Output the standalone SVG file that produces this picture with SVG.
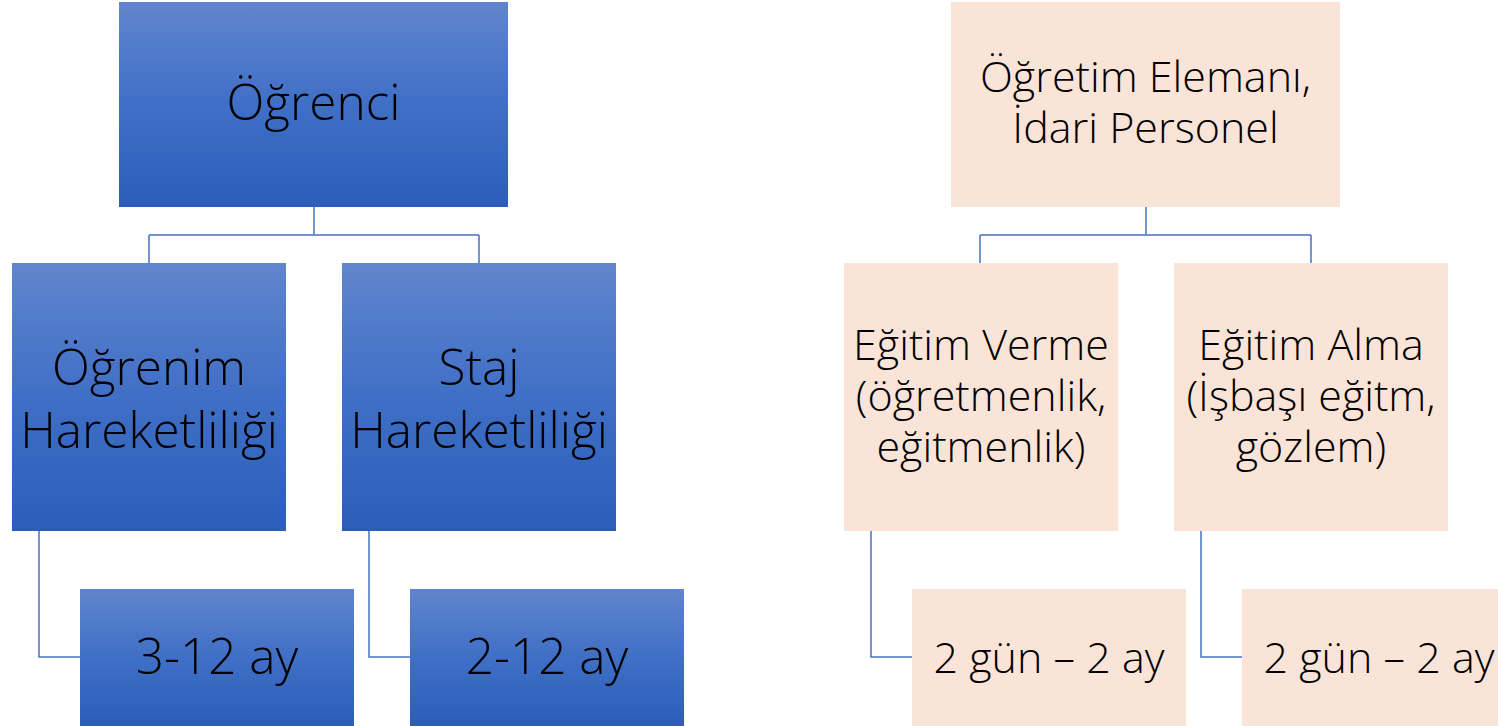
<svg xmlns="http://www.w3.org/2000/svg" width="1498" height="726" viewBox="0 0 1498 726">
<defs>
<linearGradient id="bg" x1="0" y1="0" x2="0" y2="1">
<stop offset="0" stop-color="#6185CD"/>
<stop offset="0.5" stop-color="#3F6FC6"/>
<stop offset="1" stop-color="#2C5EB9"/>
</linearGradient>
<style>
.b{fill:url(#bg)}
.p{fill:#FAE4D7}
.t{font-family:"Open Sans","Liberation Sans",sans-serif;font-weight:300;fill:#000;text-anchor:middle}
.L{font-size:49.5px}
.M{font-size:43px}
.c{fill:none;stroke:#4A72C0;stroke-width:1.5}
</style>
</defs>
<rect width="1498" height="726" fill="#fff"/>
<g id="connectors">
<path class="c" d="M314 207V235M149 235H479M149 235V263M479 235V263"/>
<path class="c" d="M39 531V657H80M369 531V657H410"/>
<path class="c" d="M1146 207V235M980 235H1311M980 235V263M1311 235V263"/>
<path class="c" d="M871 531V657H912M1201 531V657H1242"/>
</g>
<g id="ogrenci"><rect class="b" x="119" y="2" width="389" height="205"/><text class="t L" x="313.5" y="120">Öğrenci</text></g>
<g id="ogrenim"><rect class="b" x="12" y="263" width="274" height="268"/><text class="t L" x="149" y="385">Öğrenim</text><text class="t L" x="149" y="448">Hareketliliği</text></g>
<g id="staj"><rect class="b" x="342" y="263" width="274" height="268"/><text class="t L" x="479" y="385">Staj</text><text class="t L" x="479" y="448">Hareketliliği</text></g>
<g id="sure1"><rect class="b" x="80" y="589" width="274" height="137"/><text class="t L" x="217" y="674">3-12 ay</text></g>
<g id="sure2"><rect class="b" x="410" y="589" width="274" height="137"/><text class="t L" x="547" y="674">2-12 ay</text></g>
<g id="personel"><rect class="p" x="951" y="2" width="389" height="205"/><text class="t M" x="1145.5" y="92">Öğretim Elemanı,</text><text class="t M" x="1145.5" y="143">İdari Personel</text></g>
<g id="verme"><rect class="p" x="844" y="263" width="274" height="268"/><text class="t M" x="981" y="360">Eğitim Verme</text><text class="t M" x="981" y="411">(öğretmenlik,</text><text class="t M" x="981" y="462">eğitmenlik)</text></g>
<g id="alma"><rect class="p" x="1174" y="263" width="274" height="268"/><text class="t M" x="1311" y="360">Eğitim Alma</text><text class="t M" x="1311" y="411">(İşbaşı eğitm,</text><text class="t M" x="1311" y="462">gözlem)</text></g>
<g id="sure3"><rect class="p" x="912" y="589" width="274" height="137"/><text class="t M" x="1049" y="673">2 gün – 2 ay</text></g>
<g id="sure4"><rect class="p" x="1242" y="589" width="274" height="137"/><text class="t M" x="1379" y="673">2 gün – 2 ay</text></g>
</svg>
